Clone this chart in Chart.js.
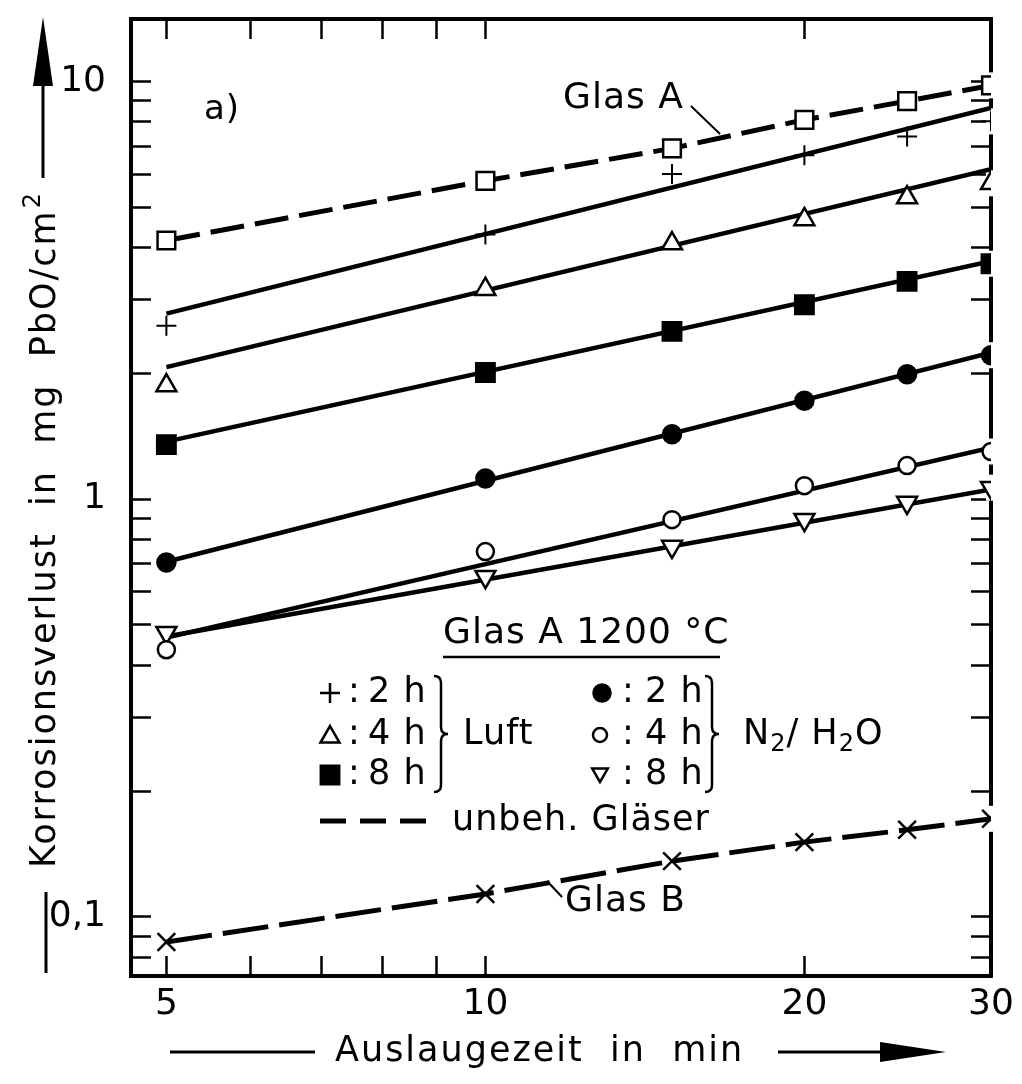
<!DOCTYPE html>
<html>
<head>
<meta charset="utf-8">
<title>Korrosionsverlust – Glas A / Glas B</title>
<script src="https://cdn.jsdelivr.net/npm/chart.js@4.4.1/dist/chart.umd.min.js"></script>
<style>
  html, body { margin: 0; padding: 0; background: #fff; }
  #wrap { width: 1022px; height: 1084px; }
</style>
</head>
<body>
<div id="wrap"><canvas id="chart" width="1022" height="1084"></canvas></div>
<script>
/* -------------------------------------------------------
   Data
------------------------------------------------------- */
const TIMES = [5, 10, 15, 20, 25, 30];   // Auslaugezeit in min

// untreated glasses, dashed
const GLAS_A = [4.16, 5.78, 6.91, 8.09, 8.97, 9.78];
const GLAS_B = [0.0871, 0.1135, 0.136, 0.151, 0.1616, 0.1717];

// Glas A 1200 °C, Luft
const LUFT_2H = [2.60, 4.30, 6.00, 6.65, 7.38, 8.02];
const LUFT_4H = [1.87, 3.18, 4.09, 4.67, 5.27, 5.70];
const LUFT_8H = [1.35, 2.01, 2.52, 2.92, 3.32, 3.66];

// Glas A 1200 °C, N2/H2O
const N2_2H = [0.705, 1.12, 1.43, 1.72, 1.99, 2.21];
const N2_4H = [0.436, 0.749, 0.893, 1.077, 1.203, 1.30];
const N2_8H = [0.479, 0.652, 0.770, 0.893, 0.981, 1.065];

// fitted straight lines: value at 5 min and at 30 min
const FIT_X = [5, 30];
const FIT_LUFT_2H = [2.78, 8.64];
const FIT_LUFT_4H = [2.07, 6.16];
const FIT_LUFT_8H = [1.373, 3.71];
const FIT_N2_2H = [0.708, 2.24];
const FIT_N2_4H = [0.466, 1.328];
const FIT_N2_8H = [0.469, 1.054];

// axes
const X_RANGE = [4.63, 30];
const Y_RANGE = [0.0722, 14.1];
const X_TICKS = [5, 6, 7, 8, 9, 10, 20, 30];
const X_LABELED = [5, 10, 20, 30];
const Y_TICKS = [0.08, 0.09, 0.1, 0.2, 0.3, 0.4, 0.5, 0.6, 0.7, 0.8, 0.9,
                 1, 2, 3, 4, 5, 6, 7, 8, 9, 10];
const Y_LABELED = [0.1, 1, 10];
const Y_LABEL_TEXT = ['0,1', '1', '10'];

/* -------------------------------------------------------
   Defaults
------------------------------------------------------- */
const FAMILY = "'DejaVu Sans', sans-serif";
Chart.defaults.font.family = FAMILY;
Chart.defaults.color = '#000';
const font = (size) => `${size}px ${FAMILY}`;

const pts = (xs, ys) => xs.map((x, i) => ({ x, y: ys[i] }));

function markerSet(label, values, style, opts) {
  return Object.assign({
    label,
    data: pts(TIMES, values),
    showLine: false,
    pointStyle: style,
    pointRadius: 10,
    pointBorderWidth: 2.5,
    pointBorderColor: '#000',
    pointBackgroundColor: '#fff',
    borderColor: '#000',
    order: 1,
  }, opts);
}

function fitLine(label, values) {
  return {
    label,
    data: pts(FIT_X, values),
    borderColor: '#000',
    borderWidth: 4.5,
    pointRadius: 0,
    order: 2,
  };
}

/* -------------------------------------------------------
   Plugins: white gaps in the right frame, annotations
------------------------------------------------------- */
const frameGaps = {
  id: 'frameGaps',
  beforeDatasetsDraw(chart) {
    const ctx = chart.ctx;
    ctx.save();
    ctx.fillStyle = '#fff';
    chart.data.datasets.forEach((ds, i) => {
      if (ds.order !== 1) return;
      const meta = chart.getDatasetMeta(i);
      const el = meta.data[meta.data.length - 1];
      ctx.fillRect(el.x - 5, el.y - 13, 10, 26);
    });
    ctx.restore();
  }
};

function brace(ctx, x, top, bottom, w) {
  const mid = (top + bottom) / 2, r = 7;
  ctx.beginPath();
  ctx.moveTo(x, top);
  ctx.quadraticCurveTo(x + w / 2, top, x + w / 2, top + r);
  ctx.lineTo(x + w / 2, mid - r);
  ctx.quadraticCurveTo(x + w / 2, mid, x + w, mid);
  ctx.quadraticCurveTo(x + w / 2, mid, x + w / 2, mid + r);
  ctx.lineTo(x + w / 2, bottom - r);
  ctx.quadraticCurveTo(x + w / 2, bottom, x, bottom);
  ctx.stroke();
}

function marker(ctx, style, x, y, radius, filled, rotation) {
  ctx.fillStyle = filled ? '#000' : '#fff';
  ctx.lineWidth = 2.5;
  Chart.helpers.drawPoint(ctx, { pointStyle: style, radius, rotation: rotation || 0, borderWidth: 2.5 }, x, y);
}

function line(ctx, x1, y1, x2, y2, w) {
  ctx.lineWidth = w;
  ctx.beginPath();
  ctx.moveTo(x1, y1);
  ctx.lineTo(x2, y2);
  ctx.stroke();
}

const annotations = {
  id: 'annotations',
  afterDraw(chart) {
    const ctx = chart.ctx;
    ctx.save();
    ctx.fillStyle = '#000';
    ctx.strokeStyle = '#000';
    ctx.textBaseline = 'middle';
    ctx.textAlign = 'left';
    ctx.letterSpacing = '1px';

    // panel label and curve labels
    ctx.font = font(34);
    ctx.fillText('a)', 204, 110);
    ctx.font = font(36);
    ctx.fillText('Glas A', 563, 99);
    ctx.fillText('Glas B', 565, 902);
    line(ctx, 691, 106, 720, 134, 2);
    line(ctx, 547, 881, 562, 897, 2);

    // legend
    ctx.fillText('Glas A 1200 °C', 443, 634);
    line(ctx, 443, 657, 720, 657, 2.5);

    ctx.font = font(35);
    const rows = [693, 735, 775];
    marker(ctx, 'cross', 330, rows[0], 10, false);
    marker(ctx, 'triangle', 330, rows[1] + 2, 11, false);
    marker(ctx, 'rect', 330, rows[2], 13, true);
    marker(ctx, 'circle', 602, rows[0], 8.5, true);
    marker(ctx, 'circle', 600, rows[1], 7, false);
    marker(ctx, 'triangle', 600, rows[2] - 2, 9, false, 180);
    ctx.fillStyle = '#000';
    ['2 h', '4 h', '8 h'].forEach((t, i) => {
      ctx.fillText(':', 348, rows[i]);
      ctx.fillText(t, 368, rows[i]);
      ctx.fillText(':', 622, rows[i]);
      ctx.fillText(t, 645, rows[i]);
    });
    ctx.lineWidth = 2.5;
    brace(ctx, 434, 676, 792, 14);
    brace(ctx, 705, 676, 792, 14);
    ctx.fillText('Luft', 463, 735);

    // N2/ H2O with subscripts
    let x = 743;
    const piece = (t, size, dy) => {
      ctx.font = font(size);
      ctx.fillText(t, x, 735 + dy);
      x += ctx.measureText(t).width;
    };
    piece('N', 35, 0);
    piece('2', 24, 10);
    piece('/ H', 35, 0);
    piece('2', 24, 10);
    piece('O', 35, 0);

    // dashed legend line
    ctx.setLineDash([26, 14]);
    line(ctx, 320, 821, 428, 821, 5);
    ctx.setLineDash([]);
    ctx.font = font(35);
    ctx.fillText('unbeh. Gläser', 452, 821);

    // y-axis title, arrow and stroke
    ctx.save();
    ctx.translate(46, 868);
    ctx.rotate(-Math.PI / 2);
    ctx.font = font(35);
    ctx.letterSpacing = '2px';
    const title = 'Korrosionsverlust  in  mg  PbO/cm';
    ctx.fillText(title, 0, 0);
    const tw = ctx.measureText(title).width;
    ctx.font = font(24);
    ctx.fillText('2', tw + 1, -12);
    ctx.restore();
    line(ctx, 46, 892, 46, 973, 3);
    line(ctx, 43, 178, 43, 80, 3);
    ctx.beginPath();
    ctx.moveTo(43, 17);
    ctx.lineTo(33, 86);
    ctx.lineTo(53, 86);
    ctx.closePath();
    ctx.fill();

    // x-axis title with arrow
    line(ctx, 170, 1052, 315, 1052, 3);
    ctx.font = font(35);
    ctx.letterSpacing = '2px';
    ctx.fillText('Auslaugezeit  in  min', 335, 1052);
    line(ctx, 778, 1052, 890, 1052, 3);
    ctx.beginPath();
    ctx.moveTo(946, 1052);
    ctx.lineTo(880, 1042);
    ctx.lineTo(880, 1062);
    ctx.closePath();
    ctx.fill();

    ctx.restore();
  }
};

/* -------------------------------------------------------
   Axis helpers
------------------------------------------------------- */
const FRAME = { display: true, width: 4, color: '#000' };
const TICK_MARKS = { drawOnChartArea: false, drawTicks: true, tickLength: -20, tickWidth: 2.5, tickColor: '#000' };

// fixed box size, and no extra room for overhanging tick labels
function fixSize(prop, size) {
  return (s) => {
    s[prop] = size;
    s.paddingTop = 0;
    s.paddingBottom = 0;
    s.paddingLeft = 0;
    s.paddingRight = 0;
  };
}

function logAxis(position, range, tickValues, extra) {
  return Object.assign({
    type: 'logarithmic',
    position,
    min: range[0],
    max: range[1],
    border: FRAME,
    grid: TICK_MARKS,
    afterBuildTicks: (s) => { s.ticks = tickValues.map(v => ({ value: v })); },
  }, extra);
}

/* -------------------------------------------------------
   Chart
------------------------------------------------------- */
new Chart(document.getElementById('chart'), {
  type: 'line',
  data: {
    datasets: [
      markerSet('Glas A', GLAS_A, 'rect', {
        showLine: true, borderWidth: 5, borderDash: [34, 11], pointRadius: 12.5
      }),
      markerSet('Glas B', GLAS_B, 'crossRot', {
        showLine: true, borderWidth: 5, borderDash: [46, 11], pointRadius: 12.5
      }),
      markerSet('Luft 2 h', LUFT_2H, 'cross', { pointRadius: 10, pointBorderWidth: 2 }),
      markerSet('Luft 4 h', LUFT_4H, 'triangle', { pointRadius: 11.5 }),
      markerSet('Luft 8 h', LUFT_8H, 'rect', { pointRadius: 13, pointBackgroundColor: '#000' }),
      markerSet('N2/H2O 2 h', N2_2H, 'circle', { pointRadius: 9, pointBackgroundColor: '#000' }),
      markerSet('N2/H2O 4 h', N2_4H, 'circle', { pointRadius: 8.5 }),
      markerSet('N2/H2O 8 h', N2_8H, 'triangle', { pointRadius: 11.5, pointRotation: 180 }),
      fitLine('Fit Luft 2 h', FIT_LUFT_2H),
      fitLine('Fit Luft 4 h', FIT_LUFT_4H),
      fitLine('Fit Luft 8 h', FIT_LUFT_8H),
      fitLine('Fit N2/H2O 2 h', FIT_N2_2H),
      fitLine('Fit N2/H2O 4 h', FIT_N2_4H),
      fitLine('Fit N2/H2O 8 h', FIT_N2_8H),
    ]
  },
  options: {
    responsive: false,
    devicePixelRatio: 1,
    animation: false,
    events: [],
    layout: { padding: { left: 0, top: 19, right: 31, bottom: 0 } },
    plugins: { legend: { display: false }, tooltip: { enabled: false } },
    scales: {
      x: logAxis('bottom', X_RANGE, X_TICKS, {
        afterFit: fixSize('height', 108),
        ticks: {
          autoSkip: false, maxRotation: 0, padding: 27, color: '#000',
          font: { size: 36 },
          callback: (v) => X_LABELED.includes(v) ? String(v) : ''
        }
      }),
      xTop: logAxis('top', X_RANGE, X_TICKS, {
        afterFit: fixSize('height', 0),
        ticks: { display: false }
      }),
      y: logAxis('left', Y_RANGE, Y_TICKS, {
        afterFit: fixSize('width', 131),
        ticks: {
          autoSkip: false, padding: 45, color: '#000',
          font: { size: 36 },
          callback: (v) => {
            const i = Y_LABELED.indexOf(v);
            return i >= 0 ? Y_LABEL_TEXT[i] : '';
          }
        }
      }),
      yRight: logAxis('right', Y_RANGE, Y_TICKS, {
        afterFit: fixSize('width', 0),
        ticks: { display: false }
      }),
    }
  },
  plugins: [frameGaps, annotations]
});
</script>
</body>
</html>
